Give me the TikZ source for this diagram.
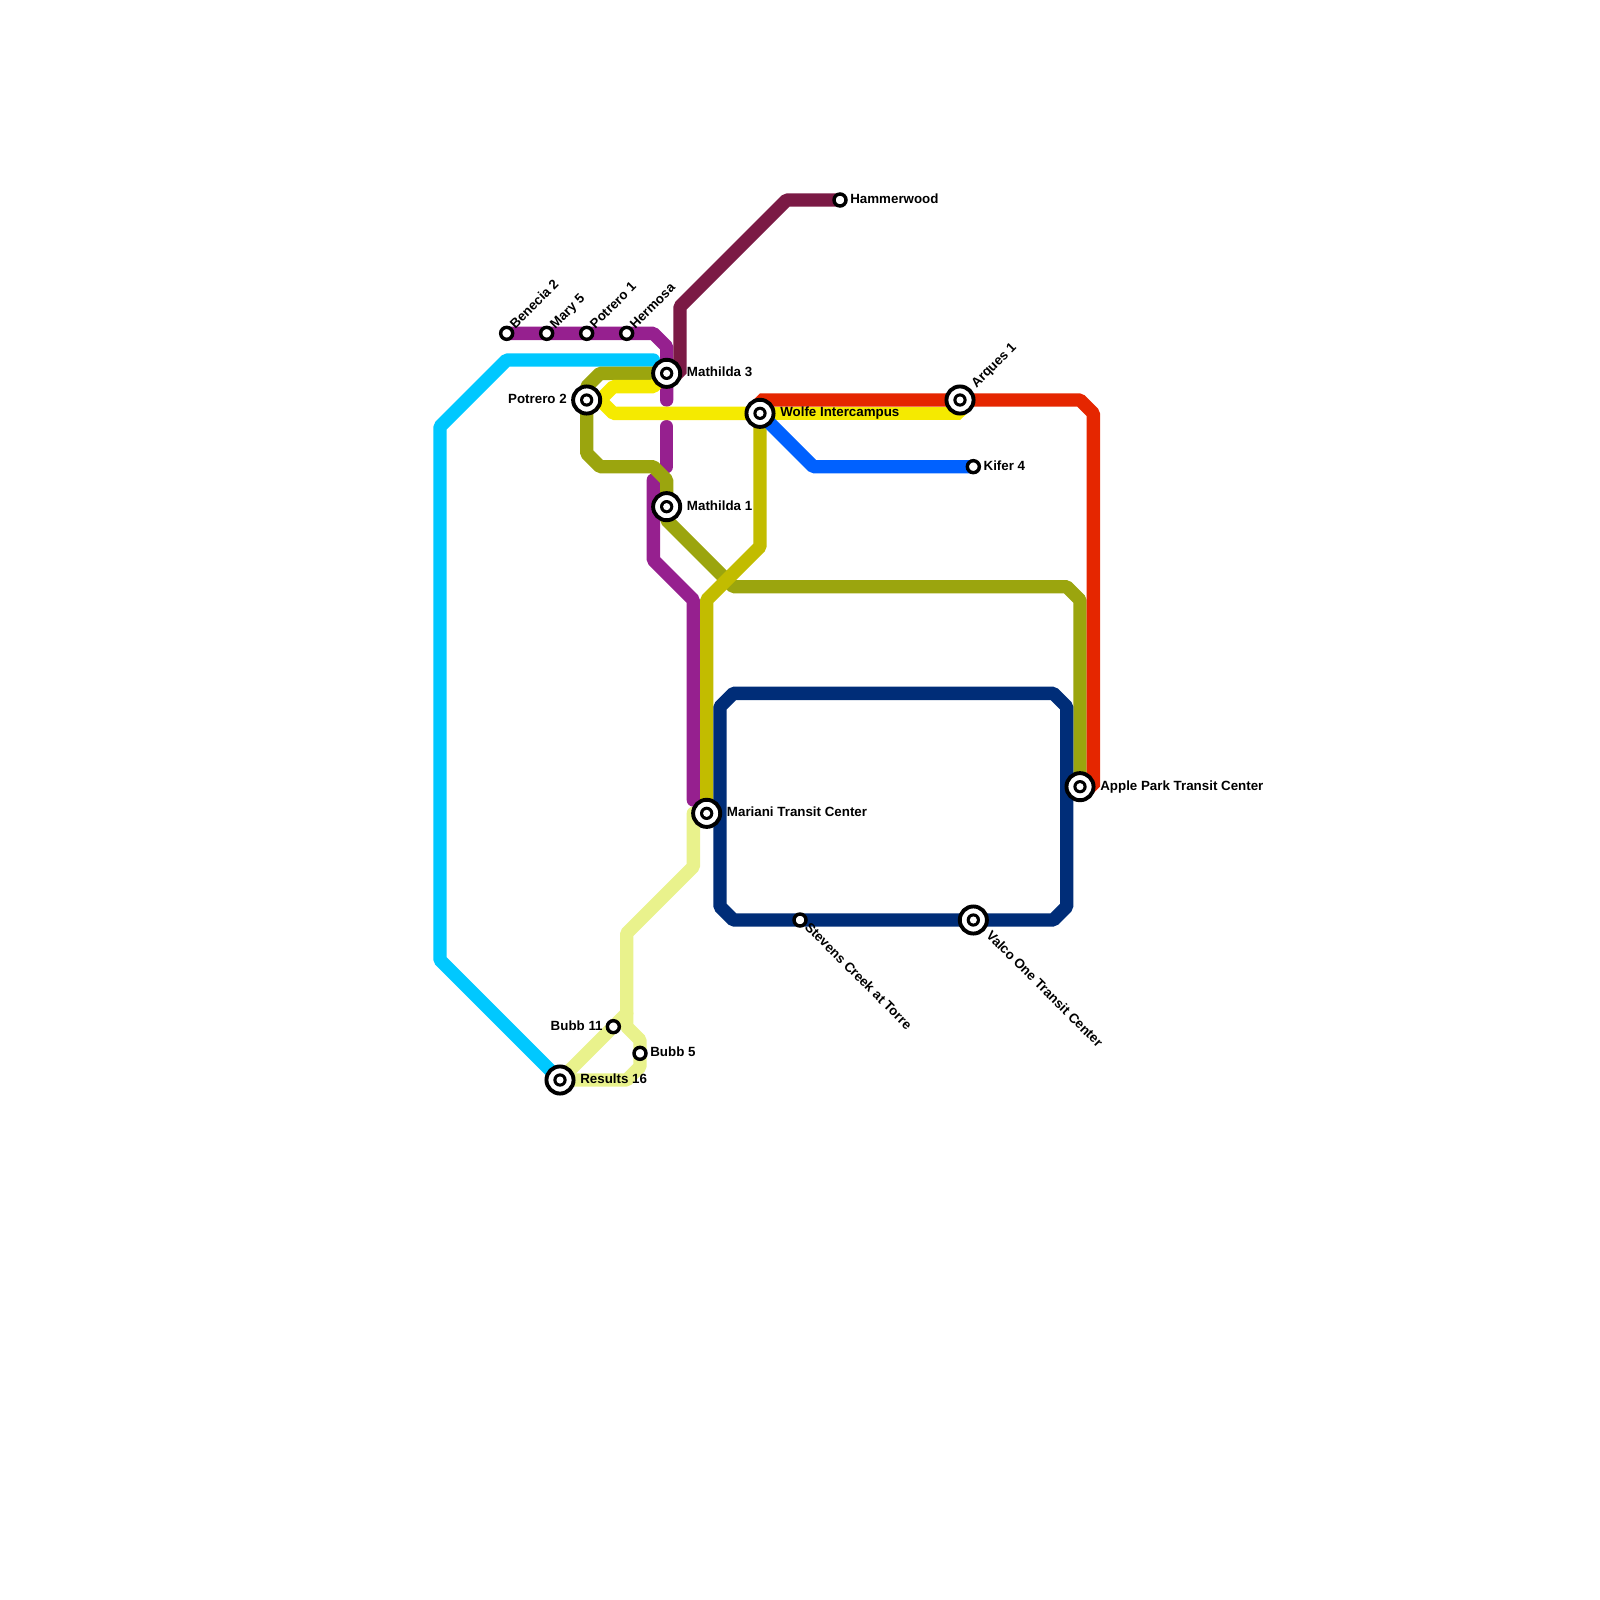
\documentclass[tikz,border=0pt]{standalone}
\usepackage{fontspec}
\setmainfont{Liberation Sans}
\usetikzlibrary{backgrounds}
\definecolor{cpurple}{RGB}{150,32,143}
\definecolor{ccyan}{RGB}{0,200,255}
\definecolor{colive}{RGB}{155,165,14}
\definecolor{cmaroon}{RGB}{123,26,69}
\definecolor{cchart}{RGB}{194,188,0}
\definecolor{cyellow}{RGB}{245,234,0}
\definecolor{cred}{RGB}{229,38,0}
\definecolor{cblue}{RGB}{0,97,255}
\definecolor{cnavy}{RGB}{0,45,120}
\definecolor{cpale}{RGB}{233,242,140}
\tikzset{
  rail/.style={line width=8.54pt,line cap=round,line join=bevel},
  stop/.style={circle,draw=black,fill=white,line width=2.2pt,minimum size=0.27cm,inner sep=0pt},
  hub/.style={circle,draw=black,fill=white,line width=2.5pt,minimum size=0.61cm,inner sep=0pt,
    path picture={\fill[black] (path picture bounding box.center) circle (0.15cm);
      \fill[white] (path picture bounding box.center) circle (0.08cm);}},
  lbl/.style={anchor=base west,inner sep=0pt,font=\fontsize{8.54}{10}\selectfont\bfseries},
  lbr/.style={anchor=base east,inner sep=0pt,font=\fontsize{8.54}{10}\selectfont\bfseries}
}
\begin{document}
\begin{tikzpicture}[x=0.3cm,y=-0.3cm]
\useasboundingbox (0,0) rectangle (120,120);
% Stops top left
\draw (38,25) node(n1)[stop] {} +(0.64,-0.3) node(t1)[lbl,rotate=45] {Benecia 2};
\draw (41,25) node(n2)[stop] {} +(0.64,-0.3) node(t2)[lbl,rotate=45] {Mary 5};
\draw (44,25) node(n3)[stop] {} +(0.64,-0.3) node(t3)[lbl,rotate=45] {Potrero 1};
\draw (47,25) node(n4)[stop] {} +(0.64,-0.3) node(t4)[lbl,rotate=45] {Hermosa};
% Hubs top
\draw (50,28) node(n5)[hub] {} +(1.5,0.26) node(t5)[lbl] {Mathilda 3};
\draw (44,30) node(n6)[hub] {} +(-1.47,0.26) node(t6)[lbr] {Potrero 2};
\draw (50,38) node(n7)[hub] {} +(1.5,0.26) node(t7)[lbl] {Mathilda 1};
\draw (57,31) node(n8)[hub] {} +(1.5,0.26) node(t8)[lbl] {Wolfe Intercampus};
\draw (72,30) node(n9)[hub] {} +(1.22,-0.85) node(t9)[lbl,rotate=45] {Arques 1};
% Stops right
\draw (63,15) node(n10)[stop] {} +(0.75,0.26) node(t10)[lbl] {Hammerwood};
\draw (73,35) node(n11)[stop] {} +(0.75,0.26) node(t11)[lbl] {Kifer 4};
\draw (81,59) node(n12)[hub] {} +(1.5,0.26) node(t12)[lbl] {Apple Park Transit Center};
\draw (53,61) node(n13)[hub] {} +(1.5,0.26) node(t13)[lbl] {Mariani Transit Center};
\draw (60,69) node(n14)[stop] {} +(0.3,0.6) node(t14)[lbl,rotate=-45] {Stevens Creek at Torre};
\draw (73,69) node(n15)[hub] {} +(0.9,1.2) node(t15)[lbl,rotate=-45] {Valco One Transit Center};
% Stops bottom
\draw (46,77) node(n16)[stop] {} +(-0.78,0.26) node(t16)[lbr] {Bubb 11};
\draw (48,79) node(n17)[stop] {} +(0.75,0.26) node(t17)[lbl] {Bubb 5};
\draw (42,81) node(n18)[hub] {} +(1.5,0.26) node(t18)[lbl] {Results 16};
% Free line ends
\coordinate (e1) at (50,30);
\coordinate (e2) at (50,32);
\coordinate (e3) at (50,35);
\coordinate (e4) at (49,36);
\coordinate (e5) at (52,60);
\coordinate (e6) at (49,27);
\coordinate (e7) at (52,61);
\begin{scope}[on background layer]
% Line cyan
\draw[rail,ccyan] (e6) -- (38,27) -- (33,32) -- (33,72) -- (n18.center);
% Line purple
\draw[rail,cpurple] (n1.center) -- (49,25) -- (50,26) -- (e1);
\draw[rail,cpurple] (e2) -- (e3);
\draw[rail,cpurple] (e4) -- (49,42) -- (52,45) -- (e5);
% Line olive
\draw[rail,colive] (n5.center) -- (45,28) -- (44,29) -- (44,34) -- (45,35) -- (49,35) -- (50,36) -- (n7.center);
\draw[rail,colive] (n7.center) -- (50,39) -- (55,44) -- (80,44) -- (81,45) -- (n12.center);
% Line maroon
\draw[rail,cmaroon] (n10.center) -- (59,15) -- (51,23) -- (51,28) -- (n5.center);
% Line red
\draw[rail,cred] (n8.center) -- (57,30) -- (81,30) -- (82,31) -- (82,59) -- (n12.center);
% Line yellow
\draw[rail,cyellow] (n5.center) -- (49,29) -- (46,29) -- (45,30) -- (46,31) -- (n8.center);
\draw[rail,cyellow] (n6.center) -- (45,30);
\draw[rail,cyellow] (n8.center) -- (72,31) -- (n9.center);
% Line chartreuse
\draw[rail,cchart] (n8.center) -- (57,41) -- (53,45) -- (n13.center);
% Line blue
\draw[rail,cblue] (n8.center) -- (61,35) -- (n11.center);
% Line navy
\draw[rail,cnavy] (54,53) -- (55,52) -- (79,52) -- (80,53) -- (80,68) -- (79,69) -- (55,69) -- (54,68) -- cycle;
% Line pale
\draw[rail,cpale] (e7) -- (52,65) -- (47,70) -- (47,77) -- (48,78) -- (48,80) -- (47,81) -- (n18.center);
\draw[rail,cpale] (47,76) -- (n18.center);
\end{scope}
\end{tikzpicture}
\end{document}
